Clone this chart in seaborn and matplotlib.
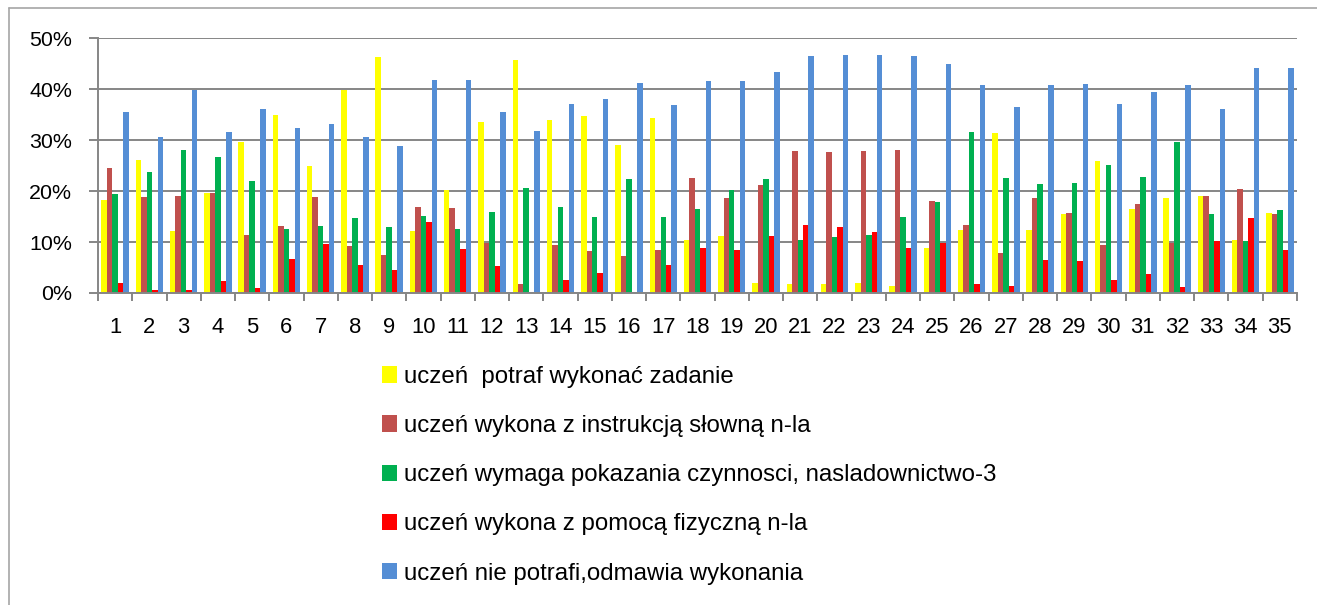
import pandas as pd
import matplotlib
matplotlib.use('Agg')
import matplotlib.pyplot as plt
import matplotlib.lines as mlines
from matplotlib.ticker import PercentFormatter, FixedLocator
import seaborn as sns
import numpy as np

# Dane (w procentach)
pytania = [str(i) for i in range(1, 36)]

kategorie = ['uczeń  potraf wykonać zadanie',
             'uczeń wykona z instrukcją słowną n-la',
             'uczeń wymaga pokazania czynnosci, nasladownictwo-3',
             'uczeń wykona z pomocą fizyczną n-la',
             'uczeń nie potrafi,odmawia wykonania']

potrafi = [18.3, 26.0, 12.2, 19.6, 29.6, 35.0, 24.9, 39.9, 46.2, 12.2,
           20.1, 33.5, 45.7, 34.0, 34.8, 29.1, 34.3, 10.3, 11.1, 2.0,
           1.7, 1.7, 2.0, 1.4, 8.9, 12.4, 31.3, 12.4, 15.4, 25.9,
           16.4, 18.7, 19.1, 10.4, 15.6]
instrukcja = [24.6, 18.8, 19.1, 19.6, 11.4, 13.2, 18.8, 9.2, 7.4, 16.9,
              16.6, 9.8, 1.7, 9.4, 8.2, 7.2, 8.4, 22.6, 18.7, 21.1,
              27.8, 27.6, 27.8, 28.1, 18.1, 13.4, 7.9, 18.7, 15.6, 9.4,
              17.4, 9.8, 19.1, 20.4, 15.4]
pokazanie = [19.4, 23.8, 28.0, 26.6, 21.9, 12.6, 13.2, 14.7, 12.9, 15.1,
             12.6, 15.9, 20.6, 16.9, 14.9, 22.3, 14.9, 16.4, 20.1, 22.3,
             10.4, 10.9, 11.4, 14.9, 17.9, 31.5, 22.6, 21.3, 21.6, 25.1,
             22.8, 29.6, 15.4, 10.1, 16.2]
pomoc = [2.0, 0.5, 0.5, 2.4, 1.0, 6.7, 9.7, 5.4, 4.5, 13.9,
         8.7, 5.2, 0.0, 2.5, 4.0, 0.0, 5.4, 8.9, 8.4, 11.1,
         13.4, 12.9, 11.9, 8.9, 9.9, 1.7, 1.4, 6.4, 6.2, 2.5,
         3.7, 1.2, 10.1, 14.7, 8.4]
nie_potrafi = [35.5, 30.6, 39.9, 31.5, 36.0, 32.3, 33.2, 30.6, 28.8, 41.8,
               41.8, 35.5, 31.8, 37.0, 38.0, 41.2, 36.8, 41.5, 41.5, 43.3,
               46.5, 46.7, 46.7, 46.5, 45.0, 40.7, 36.5, 40.7, 41.0, 37.0,
               39.5, 40.7, 36.0, 44.2, 44.2]

kolory = ['#FFFF00', '#C0504D', '#00B050', '#FF0000', '#558ED5']

# Tabela w formacie długim dla seaborn
serie = [potrafi, instrukcja, pokazanie, pomoc, nie_potrafi]
df = pd.DataFrame({
    'pytanie': pytania * len(kategorie),
    'kategoria': np.repeat(kategorie, len(pytania)),
    'wartosc': np.concatenate(serie),
})

# Styl
sns.set_style('white')
plt.rcParams['font.family'] = ['Liberation Sans', 'DejaVu Sans']
plt.rcParams['font.size'] = 15.4
plt.rcParams['text.color'] = 'black'
plt.rcParams['xtick.labelcolor'] = 'black'
plt.rcParams['ytick.labelcolor'] = 'black'

fig = plt.figure(figsize=(13.17, 6.05), dpi=100)
ax = fig.add_axes([98 / 1317, 1 - 293 / 605, 1199 / 1317, 255 / 605])

sns.barplot(data=df, x='pytanie', y='wartosc', hue='kategoria',
            order=pytania, hue_order=kategorie, palette=kolory,
            saturation=1, width=0.8, linewidth=0, ax=ax)

# Osie i siatka
siatka = '#868686'
ax.set_ylim(0, 50)
ax.set_xlim(-0.5, len(pytania) - 0.5)
ax.set_yticks(range(0, 51, 10))
ax.yaxis.set_major_formatter(PercentFormatter(100, decimals=0))
ax.yaxis.grid(True, color=siatka, linewidth=1.4)
ax.set_axisbelow(True)
ax.set_xlabel('')
ax.set_ylabel('')
for s in ['top', 'right']:
    ax.spines[s].set_visible(False)
for s in ['left', 'bottom']:
    ax.spines[s].set_color(siatka)
    ax.spines[s].set_linewidth(1.4)

ax.tick_params(axis='y', length=6.5, width=1.4, color=siatka, pad=12,
               labelsize=15.4, labelcolor='black', left=True)
ax.tick_params(axis='x', which='major', length=0, pad=17, labelsize=15.8,
               labelcolor='black')
ax.xaxis.set_minor_locator(FixedLocator(np.arange(-0.5, len(pytania), 1)))
ax.tick_params(axis='x', which='minor', length=5.5, width=1.4, color=siatka,
               bottom=True)

# Legenda pod wykresem
uchwyty, etykiety = ax.get_legend_handles_labels()
leg = ax.legend(uchwyty, etykiety, loc='upper left',
                bbox_to_anchor=(382 / 1317, 1 - 366 / 605),
                bbox_transform=fig.transFigure, frameon=False,
                fontsize=17.3, handlelength=0.63, handleheight=0.68,
                handletextpad=0.3, labelspacing=1.13, borderpad=0,
                borderaxespad=0)
for t in leg.get_texts():
    t.set_color('black')

# Ramka obszaru wykresu (widoczna tylko z lewej i u góry)
ramka = '#A6A6A6'
fig.add_artist(mlines.Line2D([9 / 1317, 9 / 1317], [0, 1 - 8 / 605],
                             transform=fig.transFigure, color=ramka, linewidth=1.2))
fig.add_artist(mlines.Line2D([9 / 1317, 1], [1 - 8 / 605, 1 - 8 / 605],
                             transform=fig.transFigure, color=ramka, linewidth=1.2))

plt.savefig('out.png', dpi=100)
plt.close()
